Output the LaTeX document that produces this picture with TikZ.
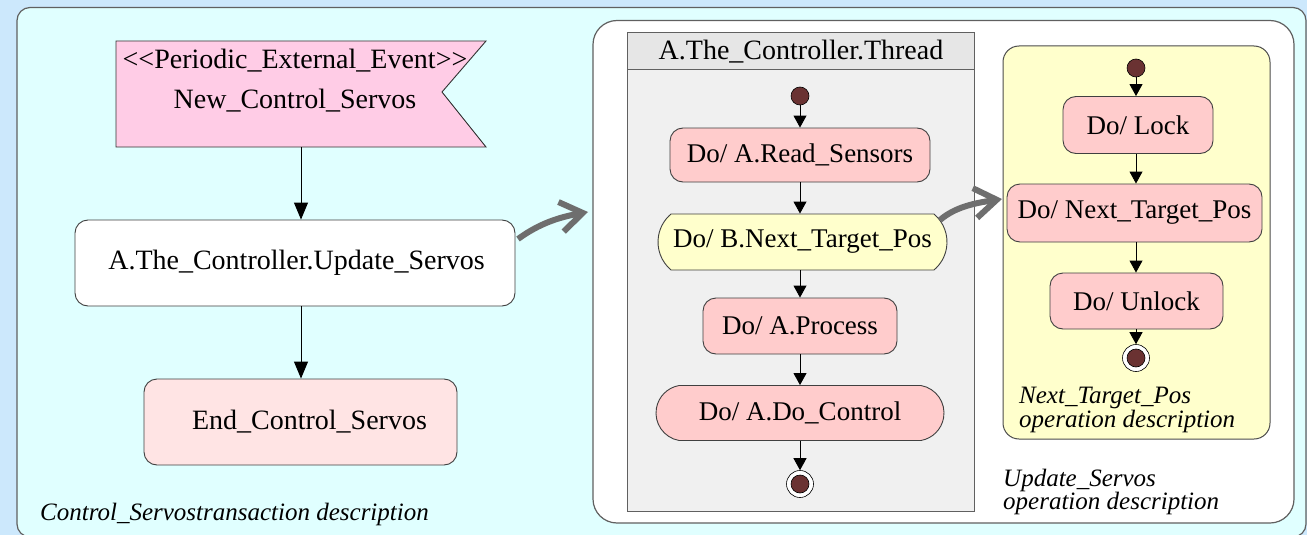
\documentclass[tikz,border=0pt]{standalone}
\usepackage{fontspec}
\setmainfont{Liberation Serif}
\usetikzlibrary{arrows.meta,shapes.misc,calc}

\definecolor{outerbg}{RGB}{204,232,252}
\definecolor{panelbg}{RGB}{224,255,255}
\definecolor{framegray}{RGB}{96,96,96}
\definecolor{flagpink}{RGB}{255,204,230}
\definecolor{endpink}{RGB}{255,228,228}
\definecolor{statepink}{RGB}{255,204,204}
\definecolor{stateyellow}{RGB}{255,255,204}
\definecolor{threadhead}{RGB}{230,230,230}
\definecolor{threadbody}{RGB}{240,240,240}
\definecolor{dotred}{RGB}{106,50,50}
\definecolor{flowgray}{RGB}{110,110,110}

\tikzset{
  bigtext/.style={font=\fontsize{28}{33}\selectfont},
  statetext/.style={font=\fontsize{27}{32}\selectfont},
  note/.style={font=\fontsize{25}{21.5}\selectfont\itshape, align=left, inner sep=0pt, anchor=west},
  actbox/.style={draw=black!75, line width=0.9pt, rounded corners=13pt, inner sep=0pt, statetext},
  actround/.style={draw=black!75, line width=0.9pt, rounded rectangle, inner sep=0pt, statetext},
  flow/.style={draw=black, line width=0.9pt, -{Triangle[length=12pt,width=13pt]}},
  bigflow/.style={draw=black, line width=0.9pt, -{Triangle[length=17pt,width=14pt]}},
  refine/.style={draw=flowgray, line width=6pt, -{Straight Barb[length=22pt,width=30pt]}},
  initdot/.style={circle, fill=dotred, draw=black, line width=0.6pt, minimum size=18pt, inner sep=0pt},
  finalring/.style={circle, draw=black, fill=white, line width=0.6pt, minimum size=27pt, inner sep=0pt},
}

\begin{document}
\begin{tikzpicture}[x=1pt, y=-1pt]
\useasboundingbox (0,0) rectangle (1307,535);
\clip (0,0) rectangle (1307,535);

% backdrop and outer transaction panel
\fill[outerbg] (0,0) rectangle (1307,535);
\draw[framegray, fill=panelbg, line width=1.2pt, rounded corners=13pt] (17,7.5) rectangle (1306,537);

% ---------- transaction: Control_Servos ----------
\draw[black!80, fill=flagpink, line width=0.9pt]
  (116,41) -- (486,41) -- (442,92) -- (486,147) -- (116,147) -- cycle;
\node[bigtext, align=center, inner sep=0pt] (flagtxt) at (295,81)
  {<{}<Periodic\_External\_Event>{}>\\[7pt]New\_Control\_Servos};
\coordinate (flag) at (301,147);

\node[actbox, bigtext, fill=white, minimum width=440pt, minimum height=86pt] (upd) at (295,263)
  {\hspace{3pt}A.The\_Controller.Update\_Servos};
\node[actbox, bigtext, fill=endpink, minimum width=313pt, minimum height=86pt] (endn) at (300.5,422)
  {\hspace{18pt}End\_Control\_Servos};

\draw[bigflow] (flag) -- (flag |- upd.north);
\draw[bigflow] (flag |- upd.south) -- (flag |- endn.north);

\node[note] (lbl1) at (40,514) {Control\_Servostransaction description};

% ---------- operation: Update_Servos ----------
\draw[framegray, fill=white, line width=1.2pt, rounded corners=24pt] (593,20.5) rectangle (1294,523);

\draw[framegray, fill=threadbody, line width=1pt] (627,33) rectangle (974,511);
\draw[framegray, fill=threadhead, line width=1pt] (627,33) rectangle (974,70);
\node[bigtext] (thr) at (801,52) {A.The\_Controller.Thread};

\node[initdot] (ini1) at (800,96) {};
\node[actbox, fill=statepink, minimum width=260pt, minimum height=54pt] (read) at (800,155)
  {Do/ A.Read\_Sensors};
\node[actround, rounded rectangle arc length=100, fill=stateyellow,
      minimum width=289pt, minimum height=56pt] (bnext) at (802.5,242)
  {Do/ B.Next\_Target\_Pos};
\node[actbox, fill=statepink, minimum width=194pt, minimum height=56pt] (proc) at (800,326)
  {Do/ A.Process};
\node[actround, rounded rectangle arc length=160, fill=statepink,
      minimum width=288pt, minimum height=55pt] (ctrl) at (800,413)
  {Do/ A.Do\_Control};
\node[finalring] (fin1) at (800,484) {};
\node[initdot] (fin1dot) at (fin1) {};

\draw[flow] (ini1) -- (read.north);
\draw[flow] (read.south) -- (read.south |- bnext.north);
\draw[flow] (read.south |- bnext.south) -- (proc.north);
\draw[flow] (proc.south) -- (ctrl.north);
\draw[flow] (ctrl.south) -- (fin1.north);

\node[note] (lbl2) at (1003,492) {Update\_Servos\\operation description};

% ---------- operation: Next_Target_Pos ----------
\draw[black!70, fill=stateyellow, line width=1pt, rounded corners=16pt] (1003,46) rectangle (1270,439);

\node[initdot] (ini2) at (1136,68) {};
\node[actbox, fill=statepink, minimum width=150pt, minimum height=57pt] (lock) at (1138,125)
  {Do/ Lock};
\node[actbox, fill=statepink, minimum width=255pt, minimum height=58pt] (tnext) at (1134.5,213)
  {Do/ Next\_Target\_Pos};
\node[actbox, fill=statepink, minimum width=173pt, minimum height=56pt] (unlock) at (1136.5,301)
  {Do/ Unlock};
\node[finalring] (fin2) at (1136,358) {};
\node[initdot] (fin2dot) at (fin2) {};

\draw[flow] (ini2) -- (ini2 |- lock.north);
\draw[flow] (ini2 |- lock.south) -- (ini2 |- tnext.north);
\draw[flow] (ini2 |- tnext.south) -- (ini2 |- unlock.north);
\draw[flow] (ini2 |- unlock.south) -- (fin2.north);

\node[note] (lbl3) at (1019,410) {Next\_Target\_Pos\\operation description};

% ---------- refinement arrows ----------
\coordinate (r1a) at (518,239);
\coordinate (r1b) at (588,212);
\coordinate (r2a) at (940,220);
\coordinate (r2b) at (1002,199);
\draw[refine] (r1a) .. controls (540,223) and (560,217) .. (r1b);
\draw[refine] (r2a) .. controls (955,207) and (975,203) .. (r2b);
\end{tikzpicture}
\end{document}
